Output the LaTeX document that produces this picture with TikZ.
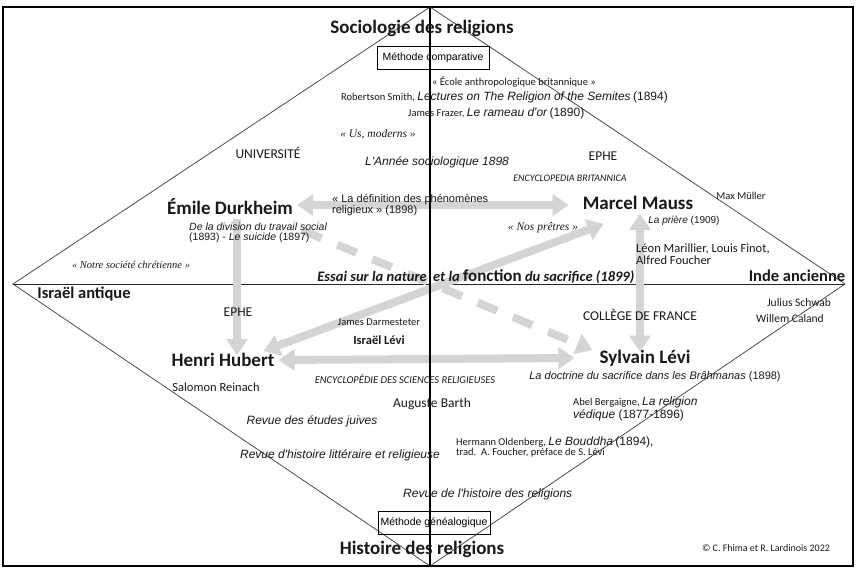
\documentclass[tikz,border=0pt]{standalone}
\usepackage{fontspec}
\setmainfont{Carlito}
\newfontfamily\calfont{Carlito}
\newfontfamily\arifont{Liberation Sans}
\newfontfamily\timfont{Liberation Serif}
\usetikzlibrary{arrows.meta,calc}
\definecolor{arrowgray}{RGB}{212,212,212}
\definecolor{txt}{RGB}{25,25,25}
\tikzset{
  base/.style={inner sep=1pt,text=txt},
  pname/.style={base,font=\calfont\bfseries\fontsize{19}{21}\selectfont},
  region/.style={base,font=\calfont\bfseries\fontsize{16.5}{18}\selectfont},
  inst/.style={base,font=\calfont\fontsize{13.5}{15}\selectfont},
  cal/.style={base,font=\calfont\fontsize{#1}{#1}\selectfont},
  calit/.style={base,font=\calfont\itshape\fontsize{#1}{#1}\selectfont},
  ari/.style={base,font=\arifont\fontsize{#1}{#1}\selectfont},
  ariit/.style={base,font=\arifont\itshape\fontsize{#1}{#1}\selectfont},
  quote/.style={base,font=\timfont\itshape\fontsize{#1}{#1}\selectfont},
  methbox/.style={draw=black,line width=0.9pt,minimum width=112pt,minimum height=23pt,inner sep=2pt,font=\arifont\fontsize{10.5}{12}\selectfont},
  bigarrow/.style={draw=arrowgray,line width=8pt,-{Triangle[length=16pt,width=21pt]}},
  bigdouble/.style={draw=arrowgray,line width=8pt,{Triangle[length=16pt,width=21pt]}-{Triangle[length=16pt,width=21pt]}},
  edge/.style={draw=black!70,line width=0.8pt},
}
\newcommand{\ai}[1]{{\arifont\itshape\fontsize{12}{14}\selectfont #1}}
\newcommand{\ar}[1]{{\arifont\fontsize{12}{14}\selectfont #1}}
\begin{document}
\begin{tikzpicture}[x=1pt,y=-1pt]
\useasboundingbox (0,0) rectangle (856,569);
\fill[white] (0,0) rectangle (856,569);
% frame
\draw[line width=1.3pt] (3,7) rectangle (853,566);
% diamond
\coordinate (T) at (430,7);
\coordinate (L) at (13,284);
\coordinate (R) at (845,284);
\coordinate (B) at (430,566);
\draw[edge] (T) -- (L) -- (B) -- (R) -- cycle;
\draw[line width=1pt,black!85] (L) -- (R);

% person nodes
\node[pname] (dur) at (230,207) {Émile Durkheim};
\node[pname] (mau) at (638,203) {Marcel Mauss};
\node[pname] (hub) at (223,360) {Henri Hubert};
\node[pname] (syl) at (645,358) {Sylvain Lévi};

% arrows
\draw[bigdouble] ($(dur.east)+(3,-2)$) -- ($(mau.west)+(-13,2)$);
\draw[bigdouble] ($(hub.east)+(3,0)$) -- ($(syl.west)+(-24,0)$);
\coordinate (v1) at ($(dur.south)+(7,3)$);
\draw[bigarrow] (v1) -- ([yshift=-3pt]v1 |- hub.north);
\coordinate (v2) at ($(mau.south)+(2,3)$);
\draw[bigdouble] (v2) -- ([yshift=-3pt]v2 |- syl.north);
\draw[bigdouble] ($(hub.north east)+(-12,-1)$) -- ($(mau.south west)+(22,13)$);
\draw[draw=arrowgray,line width=8pt,dash pattern=on 21pt off 17pt,-{Triangle[length=16pt,width=21pt]}] ($(dur.south east)+(8,14)$) -- ($(syl.west)+(-6,-8)$);

% vertical axis
\draw[line width=1.4pt] (T) -- (B);

% titles and method boxes
\node[base,font=\calfont\bfseries\fontsize{19}{21}\selectfont] (soc) at (422,28) {Sociologie des religions};
\node[methbox] (mc) at (433,58) {Méthode comparative};
\node[base,font=\calfont\bfseries\fontsize{19}{21}\selectfont] (his) at (422,549) {Histoire des religions};
\node[methbox] (mg) at (434,523) {Méthode généalogique};

% upper half
\node[cal=10.5,anchor=west] (eco) at (431,82) {« École anthropologique britannique »};
\node[cal=10.5,anchor=west] (rob) at (340,97) {Robertson Smith, \ai{Lectures on The Religion of the Semites} \ar{(1894)}};
\node[cal=10.5,anchor=west] (fra) at (407,113) {James Frazer, \ai{Le rameau d'or} \ar{(1890)}};
\node[quote=11.5] (us) at (378,134) {« Us, moderns »};
\node[inst] (univ) at (268,153) {UNIVERSITÉ};
\node[ariit=12,anchor=west] (ann) at (364,162) {L'Année sociologique 1898};
\node[inst] (ephe1) at (603,156) {EPHE};
\node[calit=10] (enc) at (570,178) {ENCYCLOPEDIA BRITANNICA};
\node[ari=11,align=left,anchor=west] (def) at (331,205) {« La définition des phénomènes\\religieux » (1898)};
\node[cal=10.5] (mm) at (741,196) {Max Müller};
\node[ariit=10] (pri) at (684,221) {La prière {\upshape (1909)}};
\node[ariit=10.5,align=left,anchor=west] (div) at (188,233) {De la division du travail social\\{\upshape (1893) - }Le suicide{\upshape\ (1897)}};
\node[quote=11.5] (nos) at (543,228) {« Nos prêtres »};
\node[cal=12.5,align=left,anchor=west] (leo) at (635,254) {Léon Marillier, Louis Finot,\\Alfred Foucher};
\node[quote=10.5] (not) at (131,265) {« Notre société chrétienne »};
\node[base,anchor=base east,font=\calfont\bfseries\itshape\fontsize{14.5}{16}\selectfont] (ess) at (428,281) {Essai sur la nature};
\node[base,anchor=base west,font=\calfont\bfseries\itshape\fontsize{14.5}{16}\selectfont] (ess2) at (432,281) {et la {\upshape\fontsize{17}{19}\selectfont fonction} du sacrifice (1899)};
\node[region] (ind) at (797,276) {Inde ancienne};
\node[region] (isr) at (84,294) {Israël antique};

% lower half
\node[inst] (ephe2) at (238,312) {EPHE};
\node[inst] (col) at (640,315) {COLLÈGE DE FRANCE};
\node[cal=11.5] (jul) at (799,303) {Julius Schwab};
\node[cal=11.5] (wil) at (790,319) {Willem Caland};
\node[cal=10.5] (jam) at (379,322) {James Darmesteter};
\node[base,font=\calfont\bfseries\fontsize{12.5}{14}\selectfont] (isl) at (379,340) {Israël Lévi};
\node[cal=12.5] (sal) at (216,387) {Salomon Reinach};
\node[calit=10.5] (ecr) at (405,379) {ENCYCLOPÉDIE DES SCIENCES RELIGIEUSES};
\node[ariit=11] (doc) at (655,377) {La doctrine du sacrifice dans les Brâhmanas {\upshape(1898)}};
\node[inst] (aug) at (432,404) {Auguste Barth};
\node[cal=10.5,align=left,anchor=west] (abe) at (572,409) {Abel Bergaigne, \ai{La religion}\\\ai{védique {\upshape(1877-1896)}}};
\node[ariit=12] (rej) at (312,421) {Revue des études juives};
\node[cal=10.5,align=left,anchor=west] (her) at (455,447) {Hermann Oldenberg, \ai{Le Bouddha} \ar{(1894),}\\ trad.\ \ A. Foucher, préface de S. Lévi};
\node[ariit=12] (rhl) at (340,455) {Revue d'histoire littéraire et religieuse};
\node[ariit=12,anchor=west] (rhr) at (402,494) {Revue de l'histoire des religions};
\node[cal=10] (cop) at (766,548) {© C. Fhima et R. Lardinois 2022};
\end{tikzpicture}
\end{document}
